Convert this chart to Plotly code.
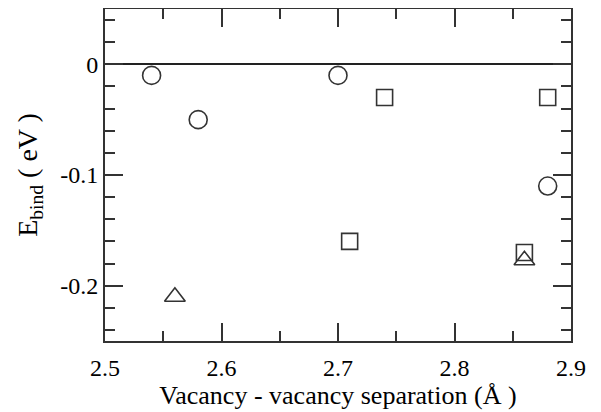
import plotly.graph_objects as go

circle_x = [2.54, 2.58, 2.70, 2.88]
circle_y = [-0.01, -0.05, -0.01, -0.11]
square_x = [2.74, 2.88, 2.71, 2.86]
square_y = [-0.03, -0.03, -0.16, -0.17]
triangle_x = [2.56, 2.86]
triangle_y = [-0.21, -0.177]

x_ticks = [2.5, 2.6, 2.7, 2.8, 2.9]
x_ticklabels = ["2.5", "2.6", "2.7", "2.8", "2.9"]
y_ticks = [0, -0.1, -0.2]
y_ticklabels = ["0", "-0.1", "-0.2"]

FAM = "Liberation Serif"
fig = go.Figure()
fig.add_trace(go.Scatter(x=circle_x, y=circle_y, mode="markers",
                         marker=dict(symbol="circle-open", size=18, color="#333", line=dict(width=1.6))))
fig.add_trace(go.Scatter(x=square_x, y=square_y, mode="markers",
                         marker=dict(symbol="square-open", size=16, color="#333", line=dict(width=1.6))))
fig.add_trace(go.Scatter(x=triangle_x, y=triangle_y, mode="markers",
                         marker=dict(symbol="triangle-up-open", size=18, color="#333", line=dict(width=1.6))))

axis_common = dict(showgrid=False, ticks="inside", ticklen=18, tickwidth=1.6, tickcolor="#333",
                   showline=True, linecolor="#333", linewidth=2, mirror="allticks", automargin=False,
                   tickfont=dict(family=FAM, size=24, color="black"))
fig.update_xaxes(range=[2.5, 2.9], tickvals=x_ticks, ticktext=x_ticklabels, zeroline=False,
                 ticklabelstandoff=4,
                 minor=dict(dtick=0.05, tick0=2.5, ticks="inside", ticklen=10, tickwidth=1.6, tickcolor="#333"),
                 title=dict(text="Vacancy - vacancy separation (Å )", font=dict(family=FAM, size=26, color="black"), standoff=0),
                 **axis_common)
fig.update_yaxes(range=[-0.25, 0.05], tickvals=y_ticks, ticktext=y_ticklabels,
                 zeroline=True, zerolinecolor="#222", zerolinewidth=1.6,
                 minor=dict(dtick=0.02, tick0=0, ticks="inside", ticklen=10, tickwidth=1.6, tickcolor="#333"),
                 title=dict(text="E<sub>bind</sub> ( eV )", font=dict(family=FAM, size=28, color="black"), standoff=14),
                 **axis_common)
fig.update_layout(width=593, height=405, margin=dict(l=97, r=30, t=1, b=72),
                  font=dict(family=FAM, size=24, color="black"),
                  plot_bgcolor="white", paper_bgcolor="white", showlegend=False)
fig.write_html("out.html")
